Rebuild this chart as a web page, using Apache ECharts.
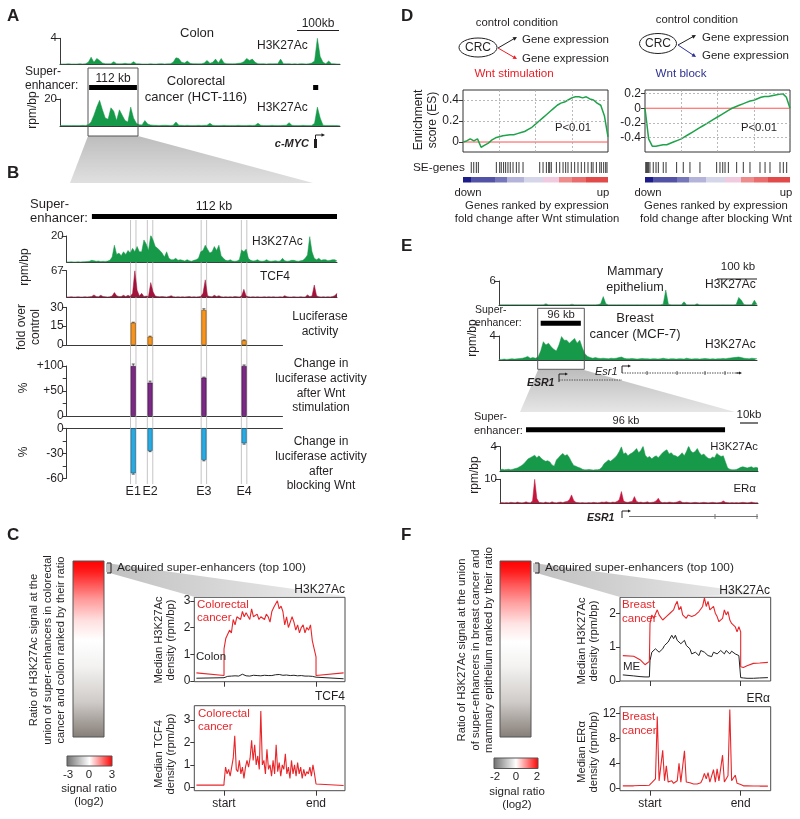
<!DOCTYPE html>
<html>
<head>
<meta charset="utf-8">
<title>Super-enhancer figure</title>
<script src="https://cdn.jsdelivr.net/npm/echarts@6.0.0/dist/echarts.min.js"></script>
<style>
html,body{margin:0;padding:0;background:#ffffff;}
#chart{width:800px;height:819px;}
</style>
</head>
<body>
<div id="chart"></div>
<script>
// ================= DATA =================
// Panel A: H3K27Ac tracks around c-MYC (100 bins)
const colonA = [0.05,0.05,0.06,0.08,0.05,0.06,0.05,0.1,0.06,0.08,
 0.3,1.1,0.3,0.9,0.6,0.2,0.1,0.08,0.1,0.4,
 0.1,0.08,0.1,0.15,0.1,0.1,0.4,0.1,0.08,0.05,
 0.06,0.05,0.08,0.06,0.05,0.08,0.1,0.06,0.08,0.1,
 0.3,1.0,0.9,0.3,0.2,0.5,0.15,0.1,0.1,0.08,
 0.1,0.2,0.6,0.15,0.3,0.8,0.2,0.9,0.2,0.1,
 0.1,0.08,0.1,0.15,0.2,0.4,0.9,0.6,0.8,0.3,
 0.1,0.08,0.1,0.06,0.1,0.08,0.1,0.1,0.8,0.1,
 0.08,0.1,0.06,0.08,0.05,0.1,0.08,0.06,0.1,0.2,
 0.5,4.0,1.2,0.3,0.1,0.5,0.1,0.08,0.05,0.05];
const crcA = [0.3,0.3,0.4,0.3,0.3,0.4,0.3,0.3,0.5,0.4,
 1.0,3.0,8.0,14,19,12,6,5,13.5,11,
 4,12,8,4,3,14,6,2,1,0.8,
 4,1.5,0.8,0.6,0.5,0.4,0.5,0.6,0.5,0.4,
 0.6,3,0.6,0.5,0.4,0.5,0.4,0.3,0.4,0.5,
 0.4,0.5,0.6,2,0.5,0.4,0.3,0.4,0.5,0.4,
 0.3,0.4,0.3,0.5,0.4,0.3,0.4,0.5,0.4,0.6,
 2,0.5,0.4,0.3,0.4,0.5,0.4,0.3,0.4,0.5,
 0.6,2.5,0.5,0.4,0.3,0.4,0.5,0.4,0.3,0.4,
 2,14,6,0.6,0.4,0.3,0.4,0.3,0.3,0.3];
const seA = [[10.3, 27.2], [89.5, 91.3]];

// Panel B: zoom on the 112 kb super-enhancer (120 bins)
const crcB_H3K27Ac = [0.3,0.3,0.4,0.3,0.3,0.4,0.3,0.4,0.5,0.6,
 0.8,1.5,1.2,0.8,1.0,0.6,0.8,0.7,0.9,1.5,
 4,13,6,7,5,8,6,9,7,10.6,
 8,12,8,8,17,14,9,20.7,17,12,
 10.6,9,7,4,8,3,2,2,3,1.5,
 2,1.5,1,2,1.2,0.8,1.5,2,3,8,
 9,13,10,7,8,12,9,13,5,3,
 1.5,1.2,2,1,0.8,1,2,9.4,8,10,
 3,1.5,1,1.2,2,1,0.8,1,2,1,
 0.8,1,1.2,0.8,1,3,1.2,0.8,1,1.5,
 1.5,1,0.8,1.2,1.5,3,5.6,19.5,8,3,
 2,3,1.5,2,2,1.2,1.5,2,2,1];
const crcB_TCF4 = [1,1,1.5,1,1,1.5,1,1,1.5,1,
 1.5,2,6,2,1.5,5,2,1.5,1,1.5,
 3,12,4,2,2,5,2,5,2,10,
 67,18,3,10,2,3,2,37,14,3,
 2,1.5,2,1.5,1,2,4,1.5,1,1.5,
 1,1.5,1,1.5,2,1,1.5,1,1.5,2,
 10,44,4,2,1.5,5,2,4,1.5,1,
 1.5,1,1.5,1,2,1.5,1,3,20,3,
 1.5,1,1.5,1,1.5,1,1,1.5,1,1.5,
 1,1.5,1,1,1.5,1,4,1.5,1,1,
 1.5,1,1,1.5,1,1,6,2,3,31,
 4,1.5,1,1.5,1,1.5,1,2,4,10];
const seB = [11.1, 119];
const enhancerNames = ['E1', 'E2', 'E3', 'E4'];
const enhancerPos = [29.3, 36.7, 60.4, 78.1];
const luciferase = [17.7, 6.6, 27.8, 3.7];
const luciferaseErr = [0.4, 0.4, 1.0, 0.3];
const wntStim = [100, 66.7, 76.7, 100];
const wntStimErr = [4, 3, 1, 2];
const wntBlock = [-54, -27, -38, -18];
const wntBlockErr = [1, 1, 1, 1];

// Panel C: meta-profiles (start..end = 0..100)
const profFlankLx = [-30, 0];
const profFlankRx = [100, 130];
const crcProf = [1.2,1.6,1.75,1.9,1.8,2.3,2.1,2.4,2.35,2.3,
 2.6,2.4,2.55,2.5,2.3,2.7,2.4,2.45,2.5,2.3,
 2.4,2.35,2.3,2.5,2.4,2.2,2.6,2.75,2.8,3.0,
 2.7,2.8,2.6,2.1,2.4,2.0,2.2,2.4,2.2,1.9,
 2.1,1.8,2.0,2.1,1.8,2.0,1.9,2.1,1.5,1.2,0.9];
const crcProfFlankL = [0.3, 0.2];
const crcProfFlankR = [0.2, 0.3];
const colonProf = [0.15,0.16,0.17,0.16,0.18,0.17,0.19,0.2,0.18,0.22,
 0.25,0.2,0.19,0.2,0.18,0.2,0.21,0.19,0.2,0.18,
 0.19,0.2,0.21,0.19,0.2,0.22,0.2,0.21,0.23,0.22,
 0.24,0.22,0.21,0.2,0.22,0.21,0.2,0.19,0.21,0.2,
 0.19,0.18,0.2,0.19,0.18,0.17,0.18,0.16,0.17,0.15,0.14];
const colonProfFlankL = [0.1, 0.12];
const colonProfFlankR = [0.1, 0.08];
const tcf4Prof = [0.2,0.9,0.6,0.8,0.5,0.9,1.3,2.3,0.8,0.7,
 1.2,0.6,0.9,0.4,0.9,1.2,0.9,1.3,2.1,1.2,
 1.9,1.0,1.4,0.8,3.4,1.0,1.2,0.6,1.7,0.8,
 1.0,0.5,1.2,0.6,1.9,0.7,1.1,0.5,1.0,0.8,
 1.5,0.6,0.9,0.4,1.2,0.6,1.0,0.5,1.1,0.6,
 0.9,0.4,0.8,0.5,0.7,0.6,0.9,0.5,1.0,0.6,0.15];
const tcf4ProfFlankL = [0.1, 0.1];
const tcf4ProfFlankR = [0.1, 0.08];

// Panel D: GSEA running enrichment scores (rank 0..100) and SE-gene hits
const esWntStim = [0,0.01,0.03,0.01,0.03,-0.05,-0.03,-0.01,0.02,0.04,
 0.05,0.06,0.065,0.07,0.07,0.08,0.09,0.1,0.12,0.14,
 0.17,0.2,0.23,0.26,0.29,0.32,0.35,0.37,0.38,0.4,
 0.42,0.43,0.43,0.42,0.43,0.41,0.4,0.37,0.35,0.25,0.05];
const esWntBlock = [0,-0.42,-0.52,-0.52,-0.51,-0.5,-0.5,-0.48,-0.46,-0.44,
 -0.42,-0.39,-0.36,-0.33,-0.3,-0.27,-0.24,-0.21,-0.18,-0.15,
 -0.12,-0.09,-0.06,-0.03,0.0,0.02,0.04,0.06,0.08,0.1,
 0.11,0.13,0.15,0.16,0.16,0.17,0.18,0.19,0.2,0.15,0.0];
const seGenesStim = [5.7,7.4,9.2,10.6,23,25.3,26.4,28,29.4,31,32.6,34.5,36.8,38.6,41.4,
 52.9,55.2,57.5,59.1,59.8,60.9,64.4,66.7,69,70.8,72.4,74.7,77,79.3,81.6,83.9,86.2,88.5,89.7,92,94.3,95.4,97,98.4,99.3];
const seGenesBlock = [0.5,1.1,1.8,2.5,3.4,5.7,7.6,9.2,12.6,14.5,21.8,26.4,31,37.9,49.4,51.7,53.6,55.2,57.5,
 63.2,67.8,72.4,79.3,82.8,86.2,93.1,95.4,97.7];
const esYTicksStim = [0, 0.2, 0.4];
const esYTicksBlock = [-0.4, -0.2, 0, 0.2];

// Panel E: ESR1 locus (100 bins) and zoom on 96 kb super-enhancer (120 bins)
const mammaryE = [0.05,0.05,0.05,0.06,0.05,0.05,0.06,0.05,0.05,0.06,
 0.05,0.06,0.05,0.05,0.06,0.05,0.06,0.08,0.3,0.06,
 0.05,0.06,0.05,0.05,0.06,0.05,0.06,0.05,0.2,0.06,
 0.05,0.06,0.05,0.05,0.06,0.05,0.06,0.05,0.1,0.3,
 2.1,0.3,0.06,0.05,0.06,0.05,0.06,0.05,0.06,0.05,
 0.06,0.05,0.05,0.06,0.05,0.05,0.06,0.05,0.06,0.05,
 0.06,0.05,0.08,0.2,3.75,0.2,0.06,0.05,0.06,0.05,
 0.06,0.8,0.06,0.05,0.06,0.05,0.3,0.05,0.06,0.05,
 0.06,0.05,0.06,0.05,0.06,0.05,0.06,0.05,0.06,0.05,
 0.06,0.1,1.9,1.2,0.1,0.05,0.06,0.08,1.2,0.1];
const mcf7E = [0.1,0.1,0.15,0.1,0.15,0.2,0.15,0.2,0.25,0.3,
 0.4,0.6,0.3,0.4,0.3,0.5,1.5,3.05,2.5,2.8,
 2.2,1.8,1.5,2.5,3.9,3.3,3.3,2.8,3.2,3.6,
 2.8,3.3,2.0,1.0,0.6,0.4,0.3,0.4,0.3,0.25,
 0.3,0.25,0.2,0.3,0.25,0.3,0.4,0.5,0.3,0.2,
 0.2,0.25,0.2,0.15,0.2,0.25,0.2,0.2,0.15,0.2,
 0.2,0.15,0.2,0.3,0.2,0.15,0.2,0.2,0.15,0.2,
 0.2,0.15,0.3,0.2,0.15,0.2,0.2,0.15,0.2,0.25,
 0.2,0.15,0.2,0.15,0.2,0.2,0.25,0.2,0.3,0.35,
 0.4,0.45,0.5,0.4,0.3,0.25,0.2,0.3,0.25,0.2];
const seE = [16, 31.4];
const mcf7Zoom_H3K27Ac = [0.2,0.3,0.2,0.25,0.3,0.2,0.3,0.4,0.5,0.7,
 0.9,1.2,1.6,2.0,2.2,2.4,2.6,2.2,2.5,2.1,
 1.8,1.6,1.7,1.5,1.0,0.8,1.8,2.2,2.6,2.9,
 2.5,2.7,2.2,1.5,0.9,0.8,0.6,0.5,0.3,0.2,
 0.2,0.25,0.2,0.15,0.2,0.2,0.3,0.6,1.2,1.5,
 1.8,1.6,1.9,2.2,2.6,3.2,4.0,2.8,3.0,2.5,
 2.8,3.0,3.3,3.7,3.0,3.4,4.1,2.6,2.2,2.4,
 2.0,2.3,2.5,2.2,2.6,3.0,3.3,3.5,2.8,3.0,
 2.6,2.5,2.3,2.6,3.0,2.5,3.2,4.1,3.3,3.0,
 3.2,3.7,3.0,2.6,2.8,2.4,2.1,2.0,2.3,2.2,
 2.9,2.6,2.4,2.5,1.5,0.5,0.3,0.2,0.2,0.25,
 0.4,0.6,0.7,0.6,0.5,0.6,0.7,0.5,0.6,0.5];
const mcf7Zoom_ERa = [0.2,0.3,0.2,0.3,0.2,0.4,0.3,0.2,0.5,0.3,
 0.2,0.3,0.6,0.3,0.2,1.0,10,2.0,0.4,0.3,
 0.2,0.5,0.3,0.2,0.6,0.3,0.2,0.4,0.5,0.3,
 0.6,0.8,1.5,3.5,1.2,0.4,0.3,0.2,0.3,0.2,
 0.2,0.3,0.2,0.4,0.3,0.2,0.3,0.5,0.4,0.6,
 0.4,0.3,0.5,0.4,0.8,1.5,4.9,1.0,0.5,0.4,
 0.6,0.8,2.8,0.8,0.4,0.5,0.3,0.4,0.6,0.3,
 0.4,0.5,1.0,2.1,0.6,0.3,0.4,0.3,0.5,0.4,
 0.3,0.4,0.6,1.0,0.4,0.3,0.4,0.3,0.2,0.3,
 0.4,0.3,0.2,0.3,0.4,0.3,0.2,0.3,0.4,0.3,
 0.2,0.3,0.4,1.0,0.4,0.3,0.2,0.3,0.2,0.3,
 0.2,0.3,0.4,0.3,0.2,0.3,0.5,0.3,0.2,0.3];
const seEz = [12, 103.8];

// Panel F: meta-profiles
const bcFlankLx = [-30, -18, -11, -5.5, -0.7, 0];
const bcFlankRx = [100, 103, 107, 114, 121, 130];
const bcProf = [1.7,1.95,1.85,1.8,2.1,1.95,1.9,1.8,1.85,1.9,
 1.95,2.0,2.05,2.1,2.25,2.35,2.1,2.2,1.95,2.0,
 1.85,1.95,2.0,1.9,1.85,1.95,2.0,2.05,2.1,2.2,
 2.45,2.2,2.35,2.1,2.15,2.2,2.0,1.9,1.75,1.7,
 1.85,2.1,1.95,2.05,1.8,1.7,1.65,1.6,1.45,1.6,1.45];
const bcProfFlankL = [0.75, 0.73, 0.63, 0.48, 0.58, 0.6];
const bcProfFlankR = [0.42, 0.4, 0.45, 0.52, 0.53, 0.55];
const meProf = [0.6,0.85,0.9,0.95,0.9,0.85,0.9,0.95,1.05,1.1,
 1.15,1.2,1.35,1.25,1.35,1.2,1.25,1.1,1.15,1.2,
 1.05,1.0,0.95,0.8,0.85,0.85,0.8,0.75,0.9,0.85,
 0.85,0.8,0.75,0.7,0.72,0.85,0.8,0.8,0.85,0.9,
 0.85,0.8,0.9,0.85,0.8,0.88,0.85,0.8,0.85,0.75,0.7];
const meProfFlankL = [0.18, 0.15, 0.13, 0.12, 0.12, 0.12];
const meProfFlankR = [0.1, 0.09, 0.08, 0.08, 0.09, 0.1];
const eraProf = [0.8,0.9,1.0,1.5,11.5,1.2,1.0,6.1,1.2,3.6,
 1.0,0.9,1.2,0.8,1.0,1.2,4.0,1.0,1.3,6.0,
 1.0,0.8,0.9,0.8,0.7,0.8,0.7,0.8,0.9,1.5,
 2.4,1.5,2.5,1.0,1.2,3.0,1.0,3.1,1.2,1.5,
 5.3,1.0,1.2,2.0,12.6,1.2,1.0,2.1,0.8,0.7,0.6];
const eraProfFlankL = [0.4, 0.4, 0.45, 0.45, 0.5, 0.5];
const eraProfFlankR = [0.4, 0.4, 0.4, 0.38, 0.36, 0.35];

// ================= CHART =================
const FONT = '"Liberation Sans", Arial, Helvetica, sans-serif';
const INK = '#231f20';
const AX = '#3a3a3a';
const GREEN = '#17994a';
const TCF_RED = '#a3123a';
const ERA_RED = '#c4153c';
const PROF_RED = '#e8262a';
const tickLabel = { fontSize: 11.5, color: INK, fontFamily: FONT };

const chart = echarts.init(document.getElementById('chart'), null, { renderer: 'canvas', width: 800, height: 819 });
const grids = [], xAxes = [], yAxes = [], series = [];

function addGrid(g, xa, ya) {
  const i = grids.length;
  grids.push(Object.assign({ containLabel: false }, g));
  xa.gridIndex = i; ya.gridIndex = i;
  xAxes.push(xa); yAxes.push(ya);
  return i;
}

function track(left, top, width, height, vals, ymax, color) {
  const i = addGrid({ left, top, width, height },
    { type: 'value', min: 0, max: vals.length - 1,
      axisLine: { show: true, onZero: false, lineStyle: { color: AX, width: 1 } },
      axisTick: { show: false }, axisLabel: { show: false }, splitLine: { show: false } },
    { type: 'value', min: 0, max: ymax,
      axisLine: { show: true, onZero: false, lineStyle: { color: AX, width: 1 } },
      axisTick: { show: true, length: 5, customValues: [ymax], lineStyle: { color: AX } },
      axisLabel: Object.assign({ show: true, margin: 3, customValues: [ymax] }, tickLabel),
      splitLine: { show: false } });
  series.push({ type: 'line', xAxisIndex: i, yAxisIndex: i,
    data: vals.map((v, k) => [k, v]), symbol: 'none', showSymbol: false,
    lineStyle: { width: 0.5, color }, areaStyle: { color, opacity: 1 },
    silent: true, animation: false });
  return i;
}

const bTrackLeft = 66.7, bTrackWidth = 270.3, bBins = 119;
const bpx = bTrackWidth / bBins;
const barMax = 95;

function bars(top, height, ymin, ymax, tickVals, labelVals, labelTexts, vals, errs, color, border) {
  const i = addGrid({ left: bTrackLeft, top, width: barMax * bpx, height },
    { type: 'value', min: 0, max: barMax,
      axisLine: { show: true, onZero: true, lineStyle: { color: AX, width: 1 } },
      axisTick: { show: false }, axisLabel: { show: false }, splitLine: { show: false } },
    { type: 'value', min: ymin, max: ymax,
      axisLine: { show: true, onZero: false, lineStyle: { color: AX, width: 1 } },
      axisTick: { show: true, length: 4, customValues: tickVals, lineStyle: { color: AX } },
      axisLabel: Object.assign({ margin: 3, customValues: labelVals,
        formatter: v => labelTexts[labelVals.indexOf(v)] }, tickLabel, { fontSize: 12 }),
      splitLine: { show: false } });
  series.push({ type: 'bar', xAxisIndex: i, yAxisIndex: i,
    data: enhancerPos.map((p, k) => [p, vals[k]]), barWidth: 5,
    itemStyle: { color, borderColor: border, borderWidth: 0.6 }, silent: true, animation: false });
  series.push({ type: 'custom', xAxisIndex: i, yAxisIndex: i, silent: true, animation: false, z: 3,
    data: enhancerPos.map((p, k) => [p, vals[k], errs[k]]),
    renderItem(params, api) {
      const x = api.value(0), y = api.value(1), e = api.value(2);
      const s = y >= 0 ? 1 : -1;
      const p0 = api.coord([x, y]), p1 = api.coord([x, y + s * e]);
      return { type: 'group', children: [
        { type: 'line', shape: { x1: p0[0], y1: p0[1], x2: p1[0], y2: p1[1] }, style: { stroke: '#333', lineWidth: 0.8 } },
        { type: 'line', shape: { x1: p1[0] - 1.5, y1: p1[1], x2: p1[0] + 1.5, y2: p1[1] }, style: { stroke: '#333', lineWidth: 0.8 } }
      ] };
    } });
  return i;
}

function prof(left, top, width, height, xmin, xmax, ymin, ymax, yticks, showX) {
  return addGrid({ left, top, width, height, show: true, borderColor: '#4a4a4a', borderWidth: 1, backgroundColor: 'rgba(0,0,0,0)' },
    { type: 'value', min: xmin, max: xmax,
      axisLine: { show: false, onZero: false },
      axisTick: { show: true, length: 5, customValues: [0, 100], lineStyle: { color: AX } },
      axisLabel: Object.assign({ show: showX, margin: 7, customValues: [0, 100],
        formatter: v => (v === 0 ? 'start' : 'end') }, tickLabel, { fontSize: 12 }),
      splitLine: { show: false } },
    { type: 'value', min: ymin, max: ymax,
      axisLine: { show: false, onZero: false },
      axisTick: { show: true, length: 4, customValues: yticks, lineStyle: { color: AX } },
      axisLabel: Object.assign({ margin: 4, customValues: yticks }, tickLabel, { fontSize: 12 }),
      splitLine: { show: false } });
}

function profLine(i, flx, fl, inside, frx, fr, color, width) {
  const data = fl.map((v, k) => [flx[k], v])
    .concat(inside.map((v, k) => [k * 100 / (inside.length - 1), v]))
    .concat(fr.map((v, k) => [frx[k], v]));
  series.push({ type: 'line', xAxisIndex: i, yAxisIndex: i, data, symbol: 'none', showSymbol: false,
    lineStyle: { color, width }, silent: true, animation: false });
}

function esPlot(left, top, width, height, ymin, ymax, yticks, vals, ygrid) {
  const i = addGrid({ left, top, width, height, show: true, borderColor: '#333', borderWidth: 1, backgroundColor: 'rgba(0,0,0,0)' },
    { type: 'value', min: 0, max: 100, axisLine: { show: false, onZero: false }, axisTick: { show: false },
      axisLabel: { show: false }, splitLine: { show: false } },
    { type: 'value', min: ymin, max: ymax, axisLine: { show: false, onZero: false },
      axisTick: { show: true, length: 4, customValues: yticks, lineStyle: { color: AX } },
      axisLabel: Object.assign({ margin: 4, customValues: yticks, formatter: v => String(Math.round(v * 10) / 10) }, tickLabel, { fontSize: 12 }),
      splitLine: { show: false } });
  series.push({ type: 'line', xAxisIndex: i, yAxisIndex: i, data: [[0, 0], [100, 0]], symbol: 'none',
    lineStyle: { color: '#ff5050', width: 1 }, silent: true, animation: false, z: 2,
    markLine: { silent: true, symbol: ['none', 'none'], label: { show: false }, animation: false,
      lineStyle: { type: [2, 2], color: '#a8a8a8', width: 0.8 },
      data: [25, 50, 75].map(v => ({ xAxis: v })).concat(ygrid.map(v => ({ yAxis: v }))) } });
  series.push({ type: 'line', xAxisIndex: i, yAxisIndex: i,
    data: vals.map((v, k) => [k * 100 / (vals.length - 1), v]), symbol: 'none',
    lineStyle: { color: '#1ea34a', width: 1.5 }, silent: true, animation: false, z: 3 });
  return i;
}

function barcode(left, top, width, height, pos) {
  const i = addGrid({ left, top, width, height },
    { type: 'value', min: 0, max: 100, show: false },
    { type: 'value', min: 0, max: 1, show: false });
  series.push({ type: 'bar', xAxisIndex: i, yAxisIndex: i, data: pos.map(p => [p, 1]), barWidth: 1,
    itemStyle: { color: '#3a3a3a' }, silent: true, animation: false });
  return i;
}

// ---- build grids ----
const iAcolon = track(60, 38.3, 280, 26, colonA, 4, GREEN);
const iAcrc = track(60, 99, 280, 27, crcA, 20, GREEN);
const iBh3 = track(bTrackLeft, 236, bTrackWidth, 26.3, crcB_H3K27Ac, 20, GREEN);
const iBtcf = track(bTrackLeft, 270.7, bTrackWidth, 26.6, crcB_TCF4, 67, TCF_RED);
const iLuc = bars(307.3, 37.7, 0, 30, [0, 15, 30], [0, 15, 30], ['0', '15', '30'], luciferase, luciferaseErr, '#f7941d', '#7a4a00');
const iStim = bars(366, 50, 0, 100, [0, 25, 50, 75, 100], [0, 50, 100], ['0', '+50', '+100'], wntStim, wntStimErr, '#7b2a84', '#3a0a40');
const iBlock = bars(428.3, 50, -60, 0, [-60, -45, -30, -15, 0], [-60, -30, 0], ['-60', '-30', '0'], wntBlock, wntBlockErr, '#29aae1', '#105a80');

const iCh3 = prof(194.3, 597.3, 150.7, 84.4, -32.3, 131.5, -0.03, 3.13, [0, 1, 2, 3], false);
profLine(iCh3, profFlankLx, colonProfFlankL, colonProf, profFlankRx, colonProfFlankR, '#222', 1);
profLine(iCh3, profFlankLx, crcProfFlankL, crcProf, profFlankRx, crcProfFlankR, PROF_RED, 1.1);
const iCtcf = prof(194.3, 705.7, 150.7, 85, -32.3, 131.5, -0.15, 3.64, [0, 1, 2, 3], true);
profLine(iCtcf, profFlankLx, tcf4ProfFlankL, tcf4Prof, profFlankRx, tcf4ProfFlankR, PROF_RED, 1.1);

esPlot(463, 90, 145, 62, -0.095, 0.495, esYTicksStim, esWntStim, [0.2, 0.4]);
esPlot(645, 90, 145, 62, -0.6, 0.25, esYTicksBlock, esWntBlock, [-0.4, -0.2, 0.2]);
barcode(463, 162, 145, 11, seGenesStim);
barcode(645, 162, 145, 11, seGenesBlock);

const iEmam = track(499, 281, 258, 24, mammaryE, 6, GREEN);
const iEmcf = track(499, 336, 258, 24, mcf7E, 4, GREEN);
const iEzh3 = track(500, 446.7, 258, 24.3, mcf7Zoom_H3K27Ac, 4, GREEN);
const iEzer = track(500, 479.3, 258, 24, mcf7Zoom_ERa, 10, ERA_RED);

const iFh3 = prof(620, 597.3, 150.7, 83.7, -33.1, 133.1, 0, 2.47, [0, 1, 2], false);
profLine(iFh3, bcFlankLx, meProfFlankL, meProf, bcFlankRx, meProfFlankR, '#222', 1);
profLine(iFh3, bcFlankLx, bcProfFlankL, bcProf, bcFlankRx, bcProfFlankR, PROF_RED, 1.1);
const iFer = prof(620, 706.7, 150.7, 84, -33.1, 133.1, -0.38, 13.06, [0, 4, 8, 12], true);
profLine(iFer, bcFlankLx, eraProfFlankL, eraProf, bcFlankRx, eraProfFlankR, PROF_RED, 1.1);

chart.setOption({ animation: false, backgroundColor: '#ffffff', grid: grids, xAxis: xAxes, yAxis: yAxes, series });

// ---- graphic helpers ----
const R90 = Math.PI / 2;
function txt(x, y, text, o = {}) {
  return { type: 'text', x, y, rotation: o.rot || 0, z: 50,
    style: { text, fill: o.color || INK, fontSize: o.size || 12, fontFamily: FONT,
      fontWeight: o.bold ? 'bold' : 'normal', fontStyle: o.italic ? 'italic' : 'normal',
      align: o.align || 'center', verticalAlign: 'middle' } };
}
function ln(x1, y1, x2, y2, o = {}) {
  return { type: 'line', z: o.z === undefined ? 40 : o.z, shape: { x1, y1, x2, y2 },
    style: { stroke: o.color || INK, lineWidth: o.w || 1, lineDash: o.dash || null } };
}
function rect(x, y, w, h, o = {}) {
  return { type: 'rect', z: o.z === undefined ? 40 : o.z, shape: { x, y, width: w, height: h },
    style: { fill: o.fill || 'none', stroke: o.stroke || null, lineWidth: o.w || 1 } };
}
function poly(points, fill, z) {
  return { type: 'polygon', z: z === undefined ? 40 : z, shape: { points }, style: { fill } };
}
function arrow(x1, y1, x2, y2, color, head) {
  head = head || 4;
  const a = Math.atan2(y2 - y1, x2 - x1);
  const c = Math.cos(a), s = Math.sin(a);
  const p1 = [x2 - head * c + head * 0.5 * s, y2 - head * s - head * 0.5 * c];
  const p2 = [x2 - head * c - head * 0.5 * s, y2 - head * s + head * 0.5 * c];
  return [ln(x1, y1, x2 - head * 0.6 * c, y2 - head * 0.6 * s, { color }),
    { type: 'polygon', z: 41, shape: { points: [[x2, y2], p1, p2] }, style: { fill: color } }];
}
function px(axisIdx, v) { return chart.convertToPixel({ xAxisIndex: axisIdx }, v); }
function seBar(axisIdx, range, y, h) {
  const a = px(axisIdx, range[0]), b = px(axisIdx, range[1]);
  return rect(a, y, b - a, h, { fill: '#000' });
}
const vGrad = (stops) => new echarts.graphic.LinearGradient(0, 0, 0, 1, stops.map(s => ({ offset: s[0], color: s[1] })));
const hGrad = (stops) => new echarts.graphic.LinearGradient(0, 0, 1, 0, stops.map(s => ({ offset: s[0], color: s[1] })));

const G = [];
// Panel letters
[['A', 7, 16], ['B', 7, 173], ['C', 7, 535], ['D', 401, 16], ['E', 401, 246], ['F', 401, 535]]
  .forEach(l => G.push(txt(l[1], l[2], l[0], { bold: true, size: 17, align: 'left' })));

// ---- Panel A ----
G.push(poly([[88, 136], [138, 136], [313, 183], [70, 183]], vGrad([[0, '#bdbdbd'], [1, '#e0e0e0']]), 0));
G.push(txt(197, 33, 'Colon', { size: 13 }));
G.push(txt(318, 24, '100kb'));
G.push(ln(297, 30.5, 339, 30.5, { w: 1.2 }));
G.push(txt(257, 46, 'H3K27Ac', { align: 'left' }));
G.push(txt(25, 72, 'Super-', { align: 'left' }));
G.push(txt(25, 86, 'enhancer:', { align: 'left' }));
G.push(rect(88, 68, 50, 68, { stroke: '#555', w: 1 }));
G.push(txt(113, 79, '112 kb'));
seA.forEach(r => G.push(seBar(iAcrc, r, 85, 5)));
G.push(txt(196, 81, 'Colorectal', { size: 13 }));
G.push(txt(196, 97, 'cancer (HCT-116)', { size: 13 }));
G.push(txt(257, 108, 'H3K27Ac', { align: 'left' }));
G.push(txt(33, 110, 'rpm/bp', { rot: R90 }));
G.push(txt(309, 144, 'c-MYC', { italic: true, bold: true, align: 'right', size: 11 }));
G.push(rect(314, 139, 3, 9, { fill: INK }));
G.push(ln(315.5, 139, 315.5, 135));
G.push(...arrow(315.5, 135, 325, 135, INK, 3.5));

// ---- Panel B ----
G.push(txt(30, 204, 'Super-', { align: 'left', size: 13 }));
G.push(txt(30, 218, 'enhancer:', { align: 'left', size: 13 }));
G.push(txt(214, 207, '112 kb', { size: 12.5 }));
G.push(seBar(iBh3, seB, 214, 5));
G.push(txt(252, 242, 'H3K27Ac', { align: 'left' }));
G.push(txt(260, 277, 'TCF4', { align: 'left' }));
G.push(txt(25, 267, 'rpm/bp', { rot: R90 }));
G.push(txt(22, 327, 'fold over', { rot: R90 }));
G.push(txt(36, 327, 'control', { rot: R90 }));
G.push(txt(320, 317, 'Luciferase'));
G.push(txt(320, 332, 'activity'));
G.push(txt(24, 388, '%', { rot: R90 }));
G.push(txt(24, 452, '%', { rot: R90 }));
['Change in', 'luciferase activity', 'after Wnt', 'stimulation'].forEach((t, k) => G.push(txt(321, 364 + k * 14.7, t)));
['Change in', 'luciferase activity', 'after', 'blocking Wnt'].forEach((t, k) => G.push(txt(321, 442 + k * 14.7, t)));
enhancerPos.forEach((p, k) => {
  const a = px(iBh3, p - 1.2), b = px(iBh3, p + 1.2);
  G.push(ln(a, 220, a, 484, { color: '#b5b5b5', w: 0.8, z: 1 }));
  G.push(ln(b, 220, b, 484, { color: '#b5b5b5', w: 0.8, z: 1 }));
  G.push(txt(px(iBh3, p), 492, enhancerNames[k], { size: 12.5 }));
});

// ---- Panel C ----
G.push(poly([[106, 563], [106, 572], [195, 597], [345, 596]], hGrad([[0, '#c0c0c0'], [1, '#efefef']]), 0));
G.push(rect(73, 561, 31, 176, { fill: vGrad([[0, '#ff0000'], [0.06, '#ff1a1a'], [0.12, '#ff4a4a'], [0.22, '#ff9a9a'], [0.34, '#ffe0e0'], [0.45, '#ffffff'], [0.6, '#f3f2f1'], [0.8, '#cfcbc8'], [1, '#857d77']]), stroke: '#555' }));
G.push(ln(107, 563, 111, 563), ln(111, 563, 111, 573), ln(107, 573, 111, 573));
G.push(txt(117, 568, 'Acquired super-enhancers (top 100)', { align: 'left', size: 11.8 }));
G.push(txt(34, 650, 'Ratio of H3K27Ac signal at the', { rot: R90, size: 11.2 }));
G.push(txt(48, 650, 'union of super-enhancers in colorectal', { rot: R90, size: 11.2 }));
G.push(txt(61, 650, 'cancer and colon ranked by their ratio', { rot: R90, size: 11.2 }));
G.push(rect(67, 756, 45, 10, { fill: hGrad([[0, '#6e6e6e'], [0.5, '#ffffff'], [1, '#ff0000']]), stroke: '#555' }));
G.push(txt(68, 775, '-3', { size: 11.5 }), txt(89, 775, '0', { size: 11.5 }), txt(112, 775, '3', { size: 11.5 }));
G.push(txt(89, 789, 'signal ratio', { size: 11.5 }), txt(89, 802, '(log2)', { size: 11.5 }));
G.push(txt(345, 590, 'H3K27Ac', { align: 'right' }));
G.push(txt(345, 697, 'TCF4', { align: 'right' }));
G.push(txt(159, 640, 'Median H3K27Ac', { rot: R90, size: 11.2 }));
G.push(txt(171, 640, 'density (rpm/bp)', { rot: R90, size: 11.2 }));
G.push(txt(159, 754, 'Median TCF4', { rot: R90, size: 11.2 }));
G.push(txt(171, 754, 'density (rpm/bp)', { rot: R90, size: 11.2 }));
G.push(txt(197, 605, 'Colorectal', { align: 'left', color: PROF_RED, size: 11.5 }));
G.push(txt(197, 618, 'cancer', { align: 'left', color: PROF_RED, size: 11.5 }));
G.push(txt(196, 657, 'Colon', { align: 'left', size: 11.5 }));
G.push(txt(198, 714, 'Colorectal', { align: 'left', color: PROF_RED, size: 11.5 }));
G.push(txt(198, 727, 'cancer', { align: 'left', color: PROF_RED, size: 11.5 }));

// ---- Panel D ----
const DS = 11.3;
G.push(txt(517, 23, 'control condition', { size: DS }));
G.push({ type: 'ellipse', z: 40, shape: { cx: 478, cy: 47.5, rx: 19, ry: 9.5 }, style: { fill: 'none', stroke: INK, lineWidth: 1 } });
G.push(txt(478, 47.5, 'CRC', { size: 12 }));
G.push(...arrow(498, 48, 517, 37, INK, 4));
G.push(...arrow(498, 48, 517, 59, '#ed1c24', 4));
G.push(txt(522, 40, 'Gene expression', { align: 'left', size: 11.5 }));
G.push(txt(522, 59, 'Gene expression', { align: 'left', size: 11.5 }));
G.push(txt(514, 74, 'Wnt stimulation', { color: '#ed1c24', size: 11.6 }));
G.push(txt(697, 20, 'control condition', { size: DS }));
G.push({ type: 'ellipse', z: 40, shape: { cx: 658, cy: 43.5, rx: 18.5, ry: 10 }, style: { fill: 'none', stroke: INK, lineWidth: 1 } });
G.push(txt(658, 43.5, 'CRC', { size: 12 }));
G.push(...arrow(678, 45, 696, 35, INK, 4));
G.push(...arrow(678, 45, 696, 57, '#2e3192', 4));
G.push(txt(702, 38, 'Gene expression', { align: 'left', size: 11.5 }));
G.push(txt(702, 56, 'Gene expression', { align: 'left', size: 11.5 }));
G.push(txt(681, 74, 'Wnt block', { color: '#2e3192', size: 11.6 }));
G.push(txt(419, 120, 'Enrichment', { rot: R90, size: 12 }));
G.push(txt(433, 120, 'score (ES)', { rot: R90, size: 12 }));
G.push(txt(573, 128, 'P<0.01', { size: DS }));
G.push(txt(759, 128, 'P<0.01', { size: DS }));
G.push(txt(413, 168, 'SE-genes', { align: 'left', size: 11.8 }));
const dStops = [[0, '#1c1c8a'], [0.055, '#1c1c8a'], [0.056, '#5252a6'], [0.22, '#5252a6'], [0.221, '#7676ba'], [0.3, '#7676ba'],
  [0.301, '#b4b4da'], [0.42, '#b4b4da'], [0.421, '#d6d6eb'], [0.55, '#d6d6eb'], [0.551, '#f0cade'], [0.66, '#f0cade'],
  [0.661, '#ee8c8c'], [0.75, '#ee8c8c'], [0.751, '#ea6c6c'], [0.85, '#ea6c6c'], [0.851, '#e24a4a'], [1, '#e24a4a']];
G.push(rect(463, 177, 145, 5.5, { fill: hGrad(dStops) }));
G.push(rect(645, 177, 145, 5.5, { fill: hGrad(dStops) }));
G.push(txt(468, 193, 'down', { size: DS }), txt(603, 193, 'up', { size: DS }));
G.push(txt(648, 193, 'down', { size: DS }), txt(786, 193, 'up', { size: DS }));
G.push(txt(537, 206, 'Genes ranked by expression', { size: DS }), txt(537, 219, 'fold change after Wnt stimulation', { size: DS }));
G.push(txt(716, 206, 'Genes ranked by expression', { size: DS }), txt(716, 219, 'fold change after blocking Wnt', { size: DS }));

// ---- Panel E ----
G.push(txt(738, 267, '100 kb', { size: 11.5 }));
G.push(ln(717, 279, 757, 279, { w: 1.2 }));
G.push(txt(635, 272, 'Mammary', { size: 12.6 }));
G.push(txt(635, 288, 'epithelium', { size: 12.6 }));
G.push(txt(705, 285, 'H3K27Ac', { align: 'left' }));
G.push(txt(475, 310, 'Super-', { align: 'left', size: 10.5 }));
G.push(txt(475, 323, 'enhancer:', { align: 'left', size: 10.5 }));
G.push(rect(537.7, 308.3, 46.6, 61, { stroke: '#555', w: 1 }));
G.push(txt(561, 315, '96 kb', { size: 11.3 }));
G.push(seBar(iEmcf, seE, 320.7, 5));
G.push(txt(635, 318, 'Breast', { size: 13 }));
G.push(txt(635, 334, 'cancer (MCF-7)', { size: 13 }));
G.push(txt(705, 345, 'H3K27Ac', { align: 'left' }));
G.push(txt(473, 338, 'rpm/bp', { rot: R90 }));
G.push(txt(527, 383, 'ESR1', { italic: true, bold: true, align: 'left', size: 10.5 }));
G.push(ln(559, 380, 622, 380, { color: '#555', w: 1, dash: [1.5, 1] }));
G.push(ln(559, 382, 559, 374));
G.push(...arrow(559, 374, 568, 374, INK, 3));
G.push(txt(595, 372, 'Esr1', { italic: true, align: 'left', size: 11 }));
G.push(ln(622, 373, 740, 373, { color: '#555', w: 1, dash: [1.5, 1] }));
[647, 677, 705, 725].forEach(x => G.push(ln(x, 371, x, 375, { color: '#555' })));
G.push(...arrow(736, 373, 742, 373, INK, 3));
G.push(ln(622, 373, 622, 366));
G.push(...arrow(622, 366, 631, 366, INK, 3));
// zoom
G.push(poly([[538, 370], [584, 370], [735, 412], [520, 412]], vGrad([[0, '#bdbdbd'], [1, '#e6e6e6']]), 0));
G.push(txt(474, 417, 'Super-', { align: 'left', size: 11 }));
G.push(txt(474, 431, 'enhancer:', { align: 'left', size: 11 }));
G.push(txt(626, 421, '96 kb', { size: 11 }));
G.push(seBar(iEzh3, seEz, 427.3, 5));
G.push(txt(749, 415, '10kb', { size: 11.5 }));
G.push(ln(740, 423, 758, 423, { w: 1.2 }));
G.push(txt(758, 447, 'H3K27Ac', { align: 'right', size: 11.3 }));
G.push(txt(756, 489, 'ERα', { align: 'right', size: 11.5 }));
G.push(txt(475, 475, 'rpm/bp', { rot: R90 }));
G.push(txt(587, 518, 'ESR1', { italic: true, bold: true, align: 'left', size: 10.5 }));
G.push(ln(622, 518, 622, 511));
G.push(...arrow(622, 511, 631, 511, INK, 3));
G.push(ln(629, 516.5, 758, 516.5, { color: '#777', w: 1 }));
G.push(ln(715, 514, 715, 519, { color: '#777' }), ln(757, 514, 757, 519, { color: '#777' }));

// ---- Panel F ----
G.push(poly([[533, 563], [533, 572], [620, 597], [770, 595]], hGrad([[0, '#c0c0c0'], [1, '#efefef']]), 0));
G.push(rect(500, 561, 31, 176, { fill: vGrad([[0, '#ff0000'], [0.06, '#ff1a1a'], [0.14, '#ff5a5a'], [0.24, '#ffa0a0'], [0.36, '#ffe4e4'], [0.46, '#ffffff'], [0.6, '#f3f2f1'], [0.8, '#cfcbc8'], [1, '#857d77']]), stroke: '#555' }));
G.push(ln(535, 563, 539, 563), ln(539, 563, 539, 573), ln(535, 573, 539, 573));
G.push(txt(545, 568, 'Acquired super-enhancers (top 100)', { align: 'left', size: 11.8 }));
G.push(txt(462, 650, 'Ratio of H3K27Ac signal at the union', { rot: R90, size: 11.2 }));
G.push(txt(476, 650, 'of super-enhancers in breast cancer and', { rot: R90, size: 11.2 }));
G.push(txt(489, 650, 'mammary epithelium ranked by their ratio', { rot: R90, size: 11.2 }));
G.push(rect(494, 758, 44, 10.5, { fill: hGrad([[0, '#6e6e6e'], [0.5, '#ffffff'], [1, '#ff0000']]), stroke: '#555' }));
G.push(txt(495, 777, '-2', { size: 11.5 }), txt(516, 777, '0', { size: 11.5 }), txt(537, 777, '2', { size: 11.5 }));
G.push(txt(517, 792, 'signal ratio', { size: 11.5 }), txt(517, 805, '(log2)', { size: 11.5 }));
G.push(txt(770, 591, 'H3K27Ac', { align: 'right' }));
G.push(txt(770, 699, 'ERα', { align: 'right' }));
G.push(txt(582, 641, 'Median H3K27Ac', { rot: R90, size: 11.2 }));
G.push(txt(594, 641, 'density (rpm/bp)', { rot: R90, size: 11.2 }));
G.push(txt(582, 752, 'Median ERα', { rot: R90, size: 11.2 }));
G.push(txt(594, 752, 'density (rpm/bp)', { rot: R90, size: 11.2 }));
G.push(txt(622, 605, 'Breast', { align: 'left', color: PROF_RED, size: 11.5 }));
G.push(txt(622, 619, 'cancer', { align: 'left', color: PROF_RED, size: 11.5 }));
G.push(txt(623, 667, 'ME', { align: 'left', size: 11.5 }));
G.push(txt(622, 717, 'Breast', { align: 'left', color: PROF_RED, size: 11.5 }));
G.push(txt(622, 731, 'cancer', { align: 'left', color: PROF_RED, size: 11.5 }));

chart.setOption({ graphic: { elements: G } });
</script>
</body>
</html>
